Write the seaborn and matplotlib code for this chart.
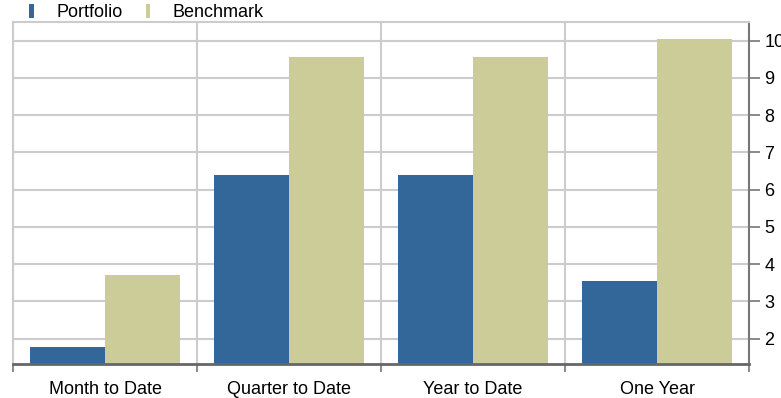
import pandas as pd
import matplotlib.pyplot as plt
import seaborn as sns
from matplotlib.ticker import FixedLocator

periods = ["Month to Date", "Quarter to Date", "Year to Date", "One Year"]
portfolio = [1.78, 6.40, 6.40, 3.55]
benchmark = [3.72, 9.56, 9.56, 10.05]
series = ["Portfolio", "Benchmark"]
y_ticks = [2, 3, 4, 5, 6, 7, 8, 9, 10]

df = pd.DataFrame({
    "Period": periods * 2,
    "Series": [series[0]] * len(periods) + [series[1]] * len(periods),
    "Value": portfolio + benchmark,
})

sns.set_style("white")
plt.rcParams["font.family"] = ["Liberation Sans", "DejaVu Sans"]
plt.rcParams["font.size"] = 13
plt.rcParams["text.color"] = "black"
plt.rcParams["xtick.color"] = "black"
plt.rcParams["ytick.color"] = "black"

fig = plt.figure(figsize=(7.81, 3.98), dpi=100)
ax = fig.add_axes([13 / 781, 34 / 398, 736 / 781, 342 / 398])

sns.barplot(data=df, x="Period", y="Value", hue="Series", order=periods,
            hue_order=series, palette=["#336699", "#CCCC99"], width=0.815,
            saturation=1, linewidth=0, ax=ax, legend=True)

ax.set_xlim(-0.5, 3.5)
ax.set_ylim(1.32, 10.5)
ax.set_xlabel("")
ax.set_ylabel("")

# right-hand value axis
ax.yaxis.tick_right()
ax.set_yticks(y_ticks)
ax.tick_params(axis="y", right=True, length=8, width=1.2, color="#777777",
               labelcolor="black", pad=3, labelsize=13)
ax.tick_params(axis="x", which="major", length=0, pad=12, labelsize=13,
               labelcolor="black")
ax.xaxis.set_minor_locator(FixedLocator([-0.5, 0.5, 1.5, 2.5, 3.5]))
ax.tick_params(axis="x", which="minor", bottom=True, length=6, width=1.2,
               color="#777777")

ax.grid(False)
ax.yaxis.grid(True, color="#cccccc", linewidth=1.5)
ax.xaxis.grid(True, which="minor", color="#cccccc", linewidth=1.5)
ax.set_axisbelow(True)

for s in ["top", "left"]:
    ax.spines[s].set_color("#cccccc")
    ax.spines[s].set_linewidth(1.5)
ax.spines["bottom"].set_color("#666666")
ax.spines["bottom"].set_linewidth(2)
ax.spines["right"].set_color("#777777")
ax.spines["right"].set_linewidth(1.5)

handles, labels = ax.get_legend_handles_labels()
ax.legend_.remove()
fig.legend(handles, labels, loc="center left", bbox_to_anchor=(29 / 781, 1 - 12.5 / 398),
           ncol=2, frameon=False, handlelength=0.25, handleheight=0.85,
           handletextpad=1.25, columnspacing=1.3, borderpad=0, borderaxespad=0,
           fontsize=13)

fig.savefig("out.png", dpi=100)
